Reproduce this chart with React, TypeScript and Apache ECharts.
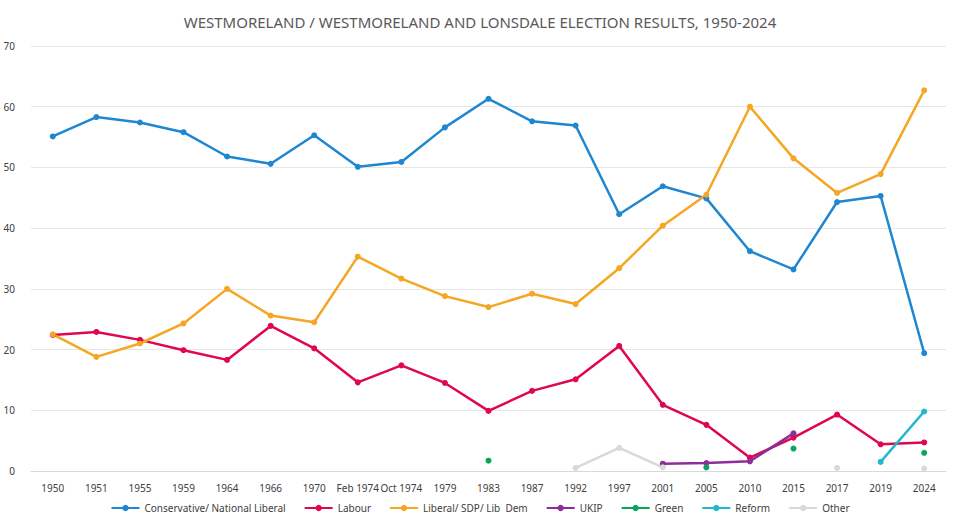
import { useEffect, useRef } from 'react'
import * as echarts from 'echarts'

const years = ['1950', '1951', '1955', '1959', '1964', '1966', '1970', 'Feb 1974', 'Oct 1974', '1979', '1983', '1987', '1992', '1997', '2001', '2005', '2010', '2015', '2017', '2019', '2024']
const conservative = [55.1, 58.3, 57.4, 55.8, 51.8, 50.6, 55.3, 50.1, 50.9, 56.6, 61.3, 57.6, 56.9, 42.3, 46.9, 44.9, 36.2, 33.2, 44.3, 45.3, 19.4]
const labour = [22.4, 22.9, 21.6, 19.9, 18.3, 23.9, 20.2, 14.6, 17.4, 14.5, 9.9, 13.2, 15.1, 20.6, 10.9, 7.6, 2.2, 5.5, 9.3, 4.4, 4.7]
const libDem = [22.5, 18.8, 21.0, 24.3, 30.0, 25.6, 24.5, 35.3, 31.7, 28.8, 27.0, 29.2, 27.5, 33.4, 40.4, 45.5, 60.0, 51.5, 45.8, 48.9, 62.7]
const ukip = [null, null, null, null, null, null, null, null, null, null, null, null, null, null, 1.2, 1.3, 1.6, 6.2, null, null, null]
const green = [null, null, null, null, null, null, null, null, null, null, 1.7, null, null, null, null, 0.6, null, 3.7, null, null, 3.0]
const reform = [null, null, null, null, null, null, null, null, null, null, null, null, null, null, null, null, null, null, null, 1.5, 9.8]
const other = [null, null, null, null, null, null, null, null, null, null, null, null, 0.5, 3.8, 0.6, null, null, null, 0.5, null, 0.4]

const series = [
  { name: 'Conservative/ National Liberal', data: conservative, color: '#1f86d1' },
  { name: 'Labour', data: labour, color: '#e0064f' },
  { name: 'Liberal/ SDP/ Lib  Dem', data: libDem, color: '#f5a623' },
  { name: 'UKIP', data: ukip, color: '#8e2c9a' },
  { name: 'Green', data: green, color: '#0aa55a' },
  { name: 'Reform', data: reform, color: '#1fb8cf' },
  { name: 'Other', data: other, color: '#d9d9d9' },
]

export default function App() {
  const ref = useRef<HTMLDivElement | null>(null)

  useEffect(() => {
    if (!ref.current) return
    const chart = echarts.init(ref.current, undefined, { renderer: 'svg' })
    chart.setOption({
      animation: false,
      backgroundColor: '#fff',
      textStyle: { fontFamily: 'Noto Sans, sans-serif' },
      title: {
        text: 'WESTMORELAND / WESTMORELAND AND LONSDALE ELECTION RESULTS, 1950-2024',
        left: 'center',
        top: 9,
        textStyle: { color: '#595959', fontSize: 15, fontWeight: 'normal' }
      },
      legend: {
        bottom: 10,
        itemWidth: 28,
        itemHeight: 8,
        itemGap: 18,
        textStyle: { color: '#404040', fontSize: 10 }
      },
      grid: { left: 31, right: 14, top: 46, bottom: 57 },
      xAxis: {
        type: 'category',
        data: years,
        boundaryGap: true,
        axisLine: { lineStyle: { color: '#d9d9d9' } },
        axisTick: { show: false },
        axisLabel: { color: '#404040', fontSize: 10, margin: 12, interval: 0 }
      },
      yAxis: {
        type: 'value',
        min: 0,
        max: 70,
        interval: 10,
        axisLabel: { color: '#404040', fontSize: 10, margin: 16 },
        splitLine: { lineStyle: { color: '#e6e6e6' } }
      },
      series: series.map((s) => ({
        type: 'line',
        name: s.name,
        data: s.data,
        connectNulls: false,
        symbol: 'circle',
        symbolSize: 6,
        showAllSymbol: true,
        lineStyle: { width: 2.5, color: s.color },
        itemStyle: { color: s.color }
      }))
    })
    return () => chart.dispose()
  }, [])

  return <div ref={ref} style={{ position: 'fixed', left: 0, top: 0, width: 960, height: 528 }} />
}
